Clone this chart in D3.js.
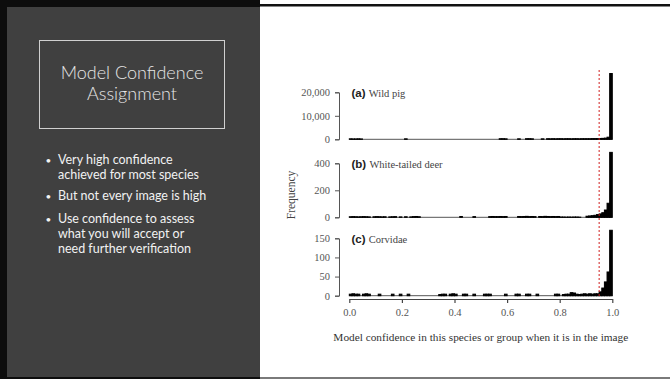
<!DOCTYPE html>
<html>
<head>
<meta charset="utf-8">
<script src="https://cdn.jsdelivr.net/npm/d3@7"></script>
<style>
  html, body { margin: 0; padding: 0; background: #fff; }
  #canvas { width: 670px; height: 379px; }
</style>
</head>
<body>
<div id="canvas"></div>
<script>
/* slide text */
var titleLines = ['Model Confidence', 'Assignment'];
var bullets = [
  ['Very high confidence', 'achieved for most species'],
  ['But not every image is high'],
  ['Use confidence to assess', 'what you will accept or', 'need further verification']
];

/* histogram bins: 100 bins of width 0.01 */
var binWidth = 0.01;
var threshold = 0.95;

var pigCounts = [
  200,150,150,200,150,0,0,0,0,0,
  0,0,0,0,0,0,0,0,0,0,
  0,200,0,0,0,0,0,0,0,0,
  0,0,0,0,0,0,0,0,0,0,
  0,0,0,0,0,0,0,0,0,0,
  0,0,0,0,0,0,0,250,250,200,
  0,0,0,0,200,0,0,250,250,200,
  0,0,0,200,0,250,200,250,200,250,
  250,200,250,250,200,250,250,200,250,250,
  250,250,300,300,300,350,400,500,900,28000
];
var deerCounts = [
  4,5,4,3,4,5,4,3,0,4,
  5,4,3,4,0,3,4,5,0,3,
  0,4,0,3,5,6,4,0,0,0,
  0,0,0,0,0,0,0,0,0,0,
  0,0,6,0,0,0,0,5,0,0,
  0,0,0,5,6,5,5,6,5,6,
  0,0,0,0,6,5,6,7,5,6,
  5,0,6,5,7,6,5,6,5,6,
  2,2,1,2,1,2,2,1,0,0,
  8,10,12,15,20,25,34,54,104,481
];
var corvidCounts = [
  4,5,4,4,0,4,5,4,0,0,
  0,4,0,0,0,0,4,0,0,4,
  0,0,4,0,0,0,0,0,0,0,
  0,0,0,0,3,4,4,0,4,5,
  4,0,0,4,4,0,0,4,0,0,
  0,4,4,4,0,0,0,0,0,4,
  0,0,0,4,4,0,0,4,4,0,
  0,4,0,0,0,0,0,0,4,4,
  0,3,4,4,8,7,4,3,4,5,
  4,5,4,5,5,10,20,36,62,171
];

var panels = [
  {tag:'(a)', name:'Wild pig', counts:pigCounts, max:20000, ticks:[0,10000,20000]},
  {tag:'(b)', name:'White-tailed deer', counts:deerCounts, max:400, ticks:[0,200,400]},
  {tag:'(c)', name:'Corvidae', counts:corvidCounts, max:150, ticks:[0,50,100,150]}
];
var xTicks = [0, 0.2, 0.4, 0.6, 0.8, 1.0];

var canvasWidth = 670,
    canvasHeight = 379;

var svg = d3.select('#canvas')
  .append('svg')
  .attr('width', canvasWidth)
  .attr('height', canvasHeight);

/* slide background */
svg.append('rect')
  .attr('x', 0).attr('y', 0)
  .attr('width', canvasWidth).attr('height', canvasHeight)
  .style('fill', '#ffffff');

svg.append('rect')
  .attr('x', 0).attr('y', 0)
  .attr('width', 260).attr('height', canvasHeight)
  .style('fill', '#0d0d0d');

svg.append('rect')
  .attr('x', 260).attr('y', 4)
  .attr('width', canvasWidth - 260).attr('height', 2.5)
  .style('fill', '#111');

svg.append('rect')
  .attr('x', 260).attr('y', 377)
  .attr('width', canvasWidth - 260).attr('height', 2)
  .style('fill', '#7a7a7a');

svg.append('rect')
  .attr('x', 7).attr('y', 7)
  .attr('width', 253).attr('height', 370)
  .style('fill', '#404040');

/* title box */
svg.append('rect')
  .attr('x', 39.5).attr('y', 40.5)
  .attr('width', 185).attr('height', 88)
  .style('fill', 'none')
  .style('stroke', '#d0d0d0')
  .style('stroke-width', '1px');

svg.append('g')
  .selectAll('text')
  .data(titleLines)
  .join('text')
  .attr('x', 132)
  .attr('y', function(d, i){ return 79 + i * 21; })
  .attr('text-anchor', 'middle')
  .style('font-family', 'Lato, sans-serif')
  .style('font-weight', 300)
  .style('font-size', '18px')
  .style('fill', '#e6e6e6')
  .text(function(d){ return d; });

/* bullets */
var bulletTop = [163.5, 200, 222.5];
var bulletGroup = svg.append('g')
  .style('font-family', 'Lato, sans-serif')
  .style('font-size', '12.5px')
  .style('fill', '#f2f2f2');

bullets.forEach(function(lines, b){
  bulletGroup.append('text')
    .attr('x', 45.5)
    .attr('y', bulletTop[b])
    .style('font-size', '10px')
    .text('\u2022');
  lines.forEach(function(line, i){
    bulletGroup.append('text')
      .attr('x', 58)
      .attr('y', bulletTop[b] + i * 15)
      .text(line);
  });
});

/* chart */
var x = d3.scaleLinear()
  .domain([0, 1])
  .range([349.3, 612.3]);

var panelBase = [139.3, 217.3, 295.7];
var panelTop = [92.3, 163.3, 238.3];

var serif = '"Liberation Serif", "Times New Roman", serif';

panels.forEach(function(p, k){
  var y = d3.scaleLinear()
    .domain([0, p.max])
    .range([panelBase[k], panelTop[k]]);

  var g = svg.append('g');

  // zero line
  g.append('line')
    .attr('x1', x(0)).attr('x2', x(1))
    .attr('y1', y(0)).attr('y2', y(0))
    .style('stroke', '#555')
    .style('stroke-width', '1px');

  var bins = p.counts.map(function(c, i){ return {x0: i * binWidth, n: c}; })
    .filter(function(d){ return d.n > 0; });

  g.selectAll('rect.bar')
    .data(bins)
    .join('rect')
    .attr('class', 'bar')
    .attr('x', function(d){ return x(d.x0); })
    .attr('width', function(d){ return x(d.x0 + binWidth) - x(d.x0); })
    .attr('y', function(d){ return y(d.n); })
    .attr('height', function(d){ return y(0) - y(d.n); })
    .style('fill', '#000')
    .style('stroke', '#000')
    .style('stroke-width', '1px');

  var axis = g.append('g')
    .attr('transform', 'translate(339,0)')
    .call(d3.axisLeft(y)
      .tickValues(p.ticks)
      .tickSize(4)
      .tickPadding(5)
      .tickFormat(d3.format(',')));
  axis.select('.domain').style('stroke', '#555');
  axis.selectAll('.tick line').style('stroke', '#555');
  axis.selectAll('.tick text')
    .style('font-family', serif)
    .style('font-size', '10.5px')
    .style('fill', '#555');

  var label = g.append('text')
    .attr('x', 351.5)
    .attr('y', panelTop[k] + 3)
    .attr('dy', '0.1em');
  label.append('tspan')
    .style('font-family', '"Liberation Sans", Arial, sans-serif')
    .style('font-weight', 'bold')
    .style('font-size', '11.5px')
    .style('fill', '#222')
    .text(p.tag + ' ');
  label.append('tspan')
    .style('font-family', serif)
    .style('font-size', '10.5px')
    .style('fill', '#444')
    .text(p.name);
});

/* x axis */
var xAxis = svg.append('g')
  .attr('transform', 'translate(0,299)')
  .call(d3.axisBottom(x)
    .tickValues(xTicks)
    .tickSize(4)
    .tickSizeOuter(0)
    .tickPadding(6)
    .tickFormat(d3.format('.1f')));
xAxis.select('.domain').style('stroke', '#444').style('stroke-width', '1.2px');
xAxis.selectAll('.tick line').style('stroke', '#444').style('stroke-width', '1.2px');
xAxis.selectAll('.tick text')
  .style('font-family', serif)
  .style('font-size', '10.5px')
  .style('fill', '#555');

svg.append('text')
  .attr('x', x(0.5))
  .attr('y', 341)
  .attr('text-anchor', 'middle')
  .style('font-family', serif)
  .style('font-size', '11.3px')
  .style('fill', '#333')
  .text('Model confidence in this species or group when it is in the image');

svg.append('text')
  .attr('transform', 'translate(295,195) rotate(-90)')
  .attr('text-anchor', 'middle')
  .style('font-family', serif)
  .style('font-size', '11.5px')
  .style('fill', '#444')
  .text('Frequency');

/* threshold line */
svg.append('line')
  .attr('x1', x(threshold)).attr('x2', x(threshold))
  .attr('y1', 70).attr('y2', 298)
  .style('stroke', '#d02020')
  .style('stroke-width', '1px')
  .style('stroke-dasharray', '2,2');
</script>
</body>
</html>
